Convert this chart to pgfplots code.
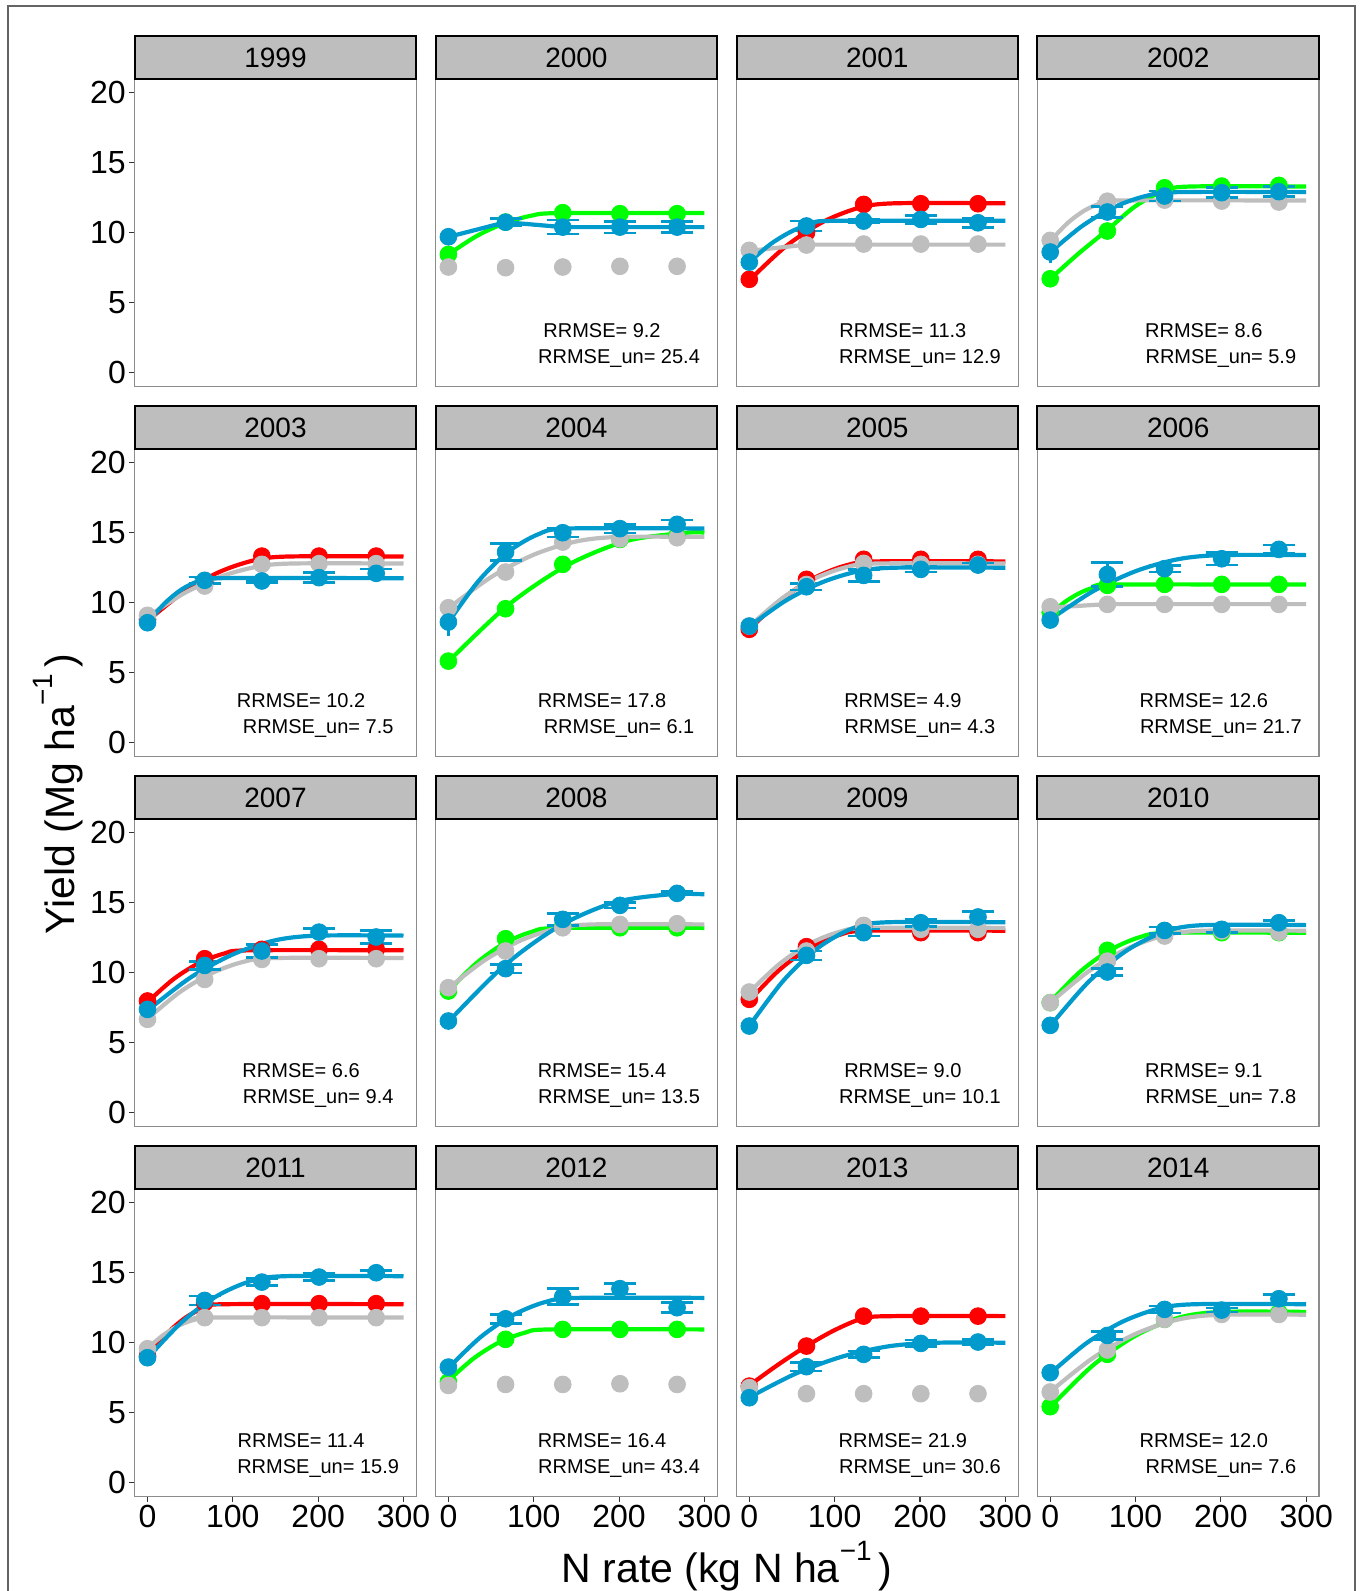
\documentclass[border=0pt]{standalone}
\usepackage{fontspec}
\setmainfont{Liberation Sans}
\usepackage{pgfplots}
\pgfplotsset{compat=1.18}
\definecolor{cred}{RGB}{255,0,0}
\definecolor{cgreen}{RGB}{0,255,0}
\definecolor{cgray}{RGB}{190,190,190}
\definecolor{cblue}{RGB}{0,154,205}
\definecolor{stripg}{RGB}{190,190,190}
\definecolor{pborder}{RGB}{140,140,140}
\definecolor{tickc}{RGB}{51,51,51}
\definecolor{framec}{RGB}{100,100,100}
\pgfplotsset{
  panel/.style={scale only axis, width=140.8pt, height=154pt,
    xmin=-15, xmax=315, ymin=-1, ymax=21, xtick=\empty, ytick=\empty,
    axis line style={draw=pborder, line width=0.6pt}, anchor=south west,
    tick style={draw=tickc, line width=0.55pt}, tick align=outside,
    major tick length=2.75pt,
    ticklabel style={font=\fontsize{16}{16}\selectfont, text=black},
    yticklabel style={inner sep=1.5pt}, xticklabel style={inner sep=1.5pt},
    /pgf/number format/assume math mode=true},
  leftcol/.style={ytick={0,5,10,15,20}, ytick pos=left},
  bottomrow/.style={xtick={0,100,200,300}, xtick pos=bottom},
}
\tikzset{
  fitl/.style={line width=2.1pt, no marks},
  pt/.style={only marks, mark=*, mark size=4.2pt},
  rrm/.style={font=\fontsize{10}{12}\selectfont, inner sep=0pt},
}
\newcommand{\rr}[2]{\node[rrm] at (axis cs:180,3) {RRMSE= #1};\node[rrm] at (axis cs:200,1) {RRMSE\_un= #2};}
\newcommand{\bpts}[1]{\addplot[pt, color=cblue, error bars/.cd, y dir=both, y explicit,
  error bar style={line width=1.3pt, cblue}, error mark options={rotate=90, line width=1.3pt, mark size=8pt, cblue}] coordinates {#1};}
\newcommand{\bz}[2]{\addplot[pt, color=cblue, error bars/.cd, y dir=both, y explicit,
  error bar style={line width=1.3pt, cblue}, error mark=none] coordinates {(0,#1)+-(0,#2)};}
\newcommand{\sups}[1]{\raisebox{0.55em}{\fontsize{14}{14}\selectfont #1}}
\begin{document}
\begin{tikzpicture}
\useasboundingbox (0,0) rectangle (681pt,-795.5pt);
\fill[white] (0,0) rectangle (681pt,-795.5pt);
\draw[framec, line width=0.75pt] (4pt,-3pt) rectangle (677.5pt,-810pt);

% ---------- row 1 ----------
\begin{axis}[panel, leftcol, at={(67.35pt,-193.35pt)}]
\end{axis}

\begin{axis}[panel, at={(217.8pt,-193.35pt)}]
\addplot[fitl, smooth, cgreen] coordinates {(0,8.45)(32.5,9.74)(65,10.66)(97.5,11.22)(130,11.4)(300,11.4)};
\addplot[pt, cgreen] coordinates {(0,8.45)(67,10.76)(134,11.43)(201,11.36)(268,11.36)};
\addplot[pt, cgray] coordinates {(0,7.55)(67,7.5)(134,7.55)(201,7.6)(268,7.6)};
\addplot[fitl, cblue] coordinates {(0,9.7)(67,10.75)(134,10.4)(300,10.4)};
\bz{9.71}{0.0}
\bpts{(67,10.75)+-(0,0.25) (134,10.4)+-(0,0.5) (201,10.4)+-(0,0.42) (268,10.4)+-(0,0.4)}
\rr{9.2}{25.4}
\end{axis}

\begin{axis}[panel, at={(368.25pt,-193.35pt)}]
\addplot[fitl, smooth, cred] coordinates {(0,6.6)(42.5,9.01)(85,10.73)(127.5,11.76)(170,12.1)(300,12.1)};
\addplot[pt, cred] coordinates {(0,6.67)(67,10.0)(134,12.02)(201,12.07)(268,12.07)};
\addplot[fitl, cgray] coordinates {(0,8.7)(67,9.15)(300,9.15)};
\addplot[pt, cgray] coordinates {(0,8.74)(67,9.12)(134,9.19)(201,9.19)(268,9.19)};
\addplot[fitl, smooth, cblue] coordinates {(0,7.9)(25,9.19)(50,10.11)(75,10.67)(100,10.85)(300,10.85)};
\bz{7.9}{0.0}
\bpts{(67,10.48)+-(0,0.35) (134,10.83)+-(0,0.15) (201,10.95)+-(0,0.3) (268,10.71)+-(0,0.35)}
\rr{11.3}{12.9}
\end{axis}

\begin{axis}[panel, at={(518.7pt,-193.35pt)}]
\addplot[fitl, smooth, cgreen] coordinates {(0,6.7)(33,8.5)(67,10.2)(100,11.9)(134,13.0)(165,13.3)(300,13.3)};
\addplot[pt, cgreen] coordinates {(0,6.71)(67,10.12)(134,13.21)(201,13.33)(268,13.38)};
\addplot[fitl, smooth, cgray] coordinates {(0,9.4)(20,10.67)(40,11.58)(60,12.12)(80,12.3)(300,12.3)};
\addplot[pt, cgray] coordinates {(0,9.45)(67,12.25)(134,12.33)(201,12.26)(268,12.19)};
\addplot[fitl, smooth, cblue] coordinates {(0,8.6)(37.5,10.48)(75,11.83)(112.5,12.63)(150,12.9)(300,12.9)};
\bz{8.62}{0.8}
\bpts{(67,11.48)+-(0,0.4) (134,12.62)+-(0,0.35) (201,12.86)+-(0,0.35) (268,12.93)+-(0,0.35)}
\rr{8.6}{5.9}
\end{axis}

% ---------- row 2 ----------
\begin{axis}[panel, leftcol, at={(67.35pt,-378.35pt)}]
\addplot[fitl, smooth, cred] coordinates {(0,8.7)(41.25,10.71)(82.5,12.15)(123.75,13.01)(165,13.3)(300,13.3)};
\addplot[pt, cred] coordinates {(0,8.8)(67,11.48)(134,13.33)(201,13.33)(268,13.33)};
\addplot[fitl, smooth, cgray] coordinates {(0,9.0)(42.5,10.66)(85,11.85)(127.5,12.56)(170,12.8)(300,12.8)};
\addplot[pt, cgray] coordinates {(0,9.1)(67,11.19)(134,12.74)(201,12.79)(268,12.79)};
\addplot[fitl, smooth, cblue] coordinates {(0,8.55)(20,9.95)(40,10.95)(60,11.55)(80,11.75)(300,11.75)};
\bz{8.57}{0.0}
\bpts{(67,11.6)+-(0,0.24) (134,11.55)+-(0,0.1) (201,11.79)+-(0,0.35) (268,12.1)+-(0,0.32)}
\rr{10.2}{7.5}
\end{axis}

\begin{axis}[panel, at={(217.8pt,-378.35pt)}]
\addplot[fitl, smooth, cgreen] coordinates {(0,5.8)(70,9.83)(140,12.7)(210,14.43)(280,15.0)(300,15.0)};
\addplot[pt, cgreen] coordinates {(0,5.83)(67,9.57)(134,12.74)(201,14.52)(268,14.8)};
\addplot[fitl, smooth, cgray] coordinates {(0,9.6)(50,11.83)(100,13.43)(150,14.38)(200,14.7)(300,14.7)};
\addplot[pt, cgray] coordinates {(0,9.64)(67,12.19)(134,14.33)(201,14.57)(268,14.64)};
\addplot[fitl, smooth, cblue] coordinates {(0,8.6)(35,11.53)(70,13.63)(105,14.88)(140,15.3)(300,15.3)};
\bz{8.62}{1.0}
\bpts{(67,13.62)+-(0,0.6) (134,15.0)+-(0,0.3) (201,15.29)+-(0,0.3) (268,15.6)+-(0,0.3)}
\rr{17.8}{6.1}
\end{axis}

\begin{axis}[panel, at={(368.25pt,-378.35pt)}]
\addplot[fitl, smooth, cred] coordinates {(0,8.1)(37.5,10.22)(75,11.74)(112.5,12.65)(150,12.95)(300,12.95)};
\addplot[pt, cred] coordinates {(0,8.1)(67,11.67)(134,13.1)(201,13.1)(268,13.1)};
\addplot[fitl, smooth, cgray] coordinates {(0,8.3)(37.5,10.27)(75,11.68)(112.5,12.52)(150,12.8)(300,12.8)};
\addplot[pt, cgray] coordinates {(0,8.33)(67,11.3)(134,12.81)(201,12.74)(268,12.74)};
\addplot[fitl, smooth, cblue] coordinates {(0,8.3)(42.5,10.14)(85,11.45)(127.5,12.24)(170,12.5)(300,12.5)};
\bz{8.33}{0.0}
\bpts{(67,11.14)+-(0,0.24) (134,11.95)+-(0,0.42) (201,12.38)+-(0,0.2) (268,12.69)+-(0,0.15)}
\rr{4.9}{4.3}
\end{axis}

\begin{axis}[panel, at={(518.7pt,-378.35pt)}]
\addplot[fitl, smooth, cgreen] coordinates {(0,9.2)(18.75,10.12)(37.5,10.78)(56.25,11.17)(75,11.3)(300,11.3)};
\addplot[pt, cgreen] coordinates {(0,9.3)(67,11.24)(134,11.31)(201,11.31)(268,11.31)};
\addplot[fitl, cgray] coordinates {(0,9.65)(67,9.9)(300,9.9)};
\addplot[pt, cgray] coordinates {(0,9.71)(67,9.88)(134,9.88)(201,9.88)(268,9.88)};
\addplot[fitl, smooth, cblue] coordinates {(0,8.8)(50,10.81)(100,12.25)(150,13.11)(200,13.4)(300,13.4)};
\bz{8.76}{0.0}
\bpts{(67,12.02)+-(0,0.87) (134,12.43)+-(0,0.24) (201,13.14)+-(0,0.45) (268,13.81)+-(0,0.3)}
\rr{12.6}{21.7}
\end{axis}

% ---------- row 3 ----------
\begin{axis}[panel, leftcol, at={(67.35pt,-563.35pt)}]
\addplot[fitl, smooth, cred] coordinates {(0,7.9)(30,9.52)(60,10.68)(90,11.37)(120,11.6)(300,11.6)};
\addplot[pt, cred] coordinates {(0,7.98)(67,11.0)(134,11.67)(201,11.67)(268,11.67)};
\addplot[fitl, smooth, cgray] coordinates {(0,6.7)(37.5,8.6)(75,9.96)(112.5,10.78)(150,11.05)(300,11.05)};
\addplot[pt, cgray] coordinates {(0,6.67)(67,9.52)(134,10.95)(201,11.0)(268,11.0)};
\addplot[fitl, smooth, cblue] coordinates {(0,7.3)(50,9.64)(100,11.31)(150,12.32)(200,12.65)(300,12.65)};
\bz{7.38}{0.0}
\bpts{(67,10.52)+-(0,0.3) (134,11.55)+-(0,0.45) (201,12.9)+-(0,0.26) (268,12.55)+-(0,0.45)}
\rr{6.6}{9.4}
\end{axis}

\begin{axis}[panel, at={(217.8pt,-563.35pt)}]
\addplot[fitl, smooth, cgreen] coordinates {(0,8.7)(32.5,10.67)(65,12.08)(97.5,12.92)(130,13.2)(300,13.2)};
\addplot[pt, cgreen] coordinates {(0,8.69)(67,12.43)(134,13.33)(201,13.21)(268,13.21)};
\addplot[fitl, smooth, cgray] coordinates {(0,8.9)(42.5,10.89)(85,12.31)(127.5,13.17)(170,13.45)(300,13.45)};
\addplot[pt, cgray] coordinates {(0,8.93)(67,11.55)(134,13.21)(201,13.45)(268,13.5)};
\addplot[fitl, smooth, cblue] coordinates {(0,6.5)(65,10.48)(130,13.33)(195,15.03)(260,15.6)(300,15.6)};
\bz{6.55}{0.0}
\bpts{(67,10.29)+-(0,0.3) (134,13.81)+-(0,0.44) (201,14.81)+-(0,0.2) (268,15.67)+-(0,0.12)}
\rr{15.4}{13.5}
\end{axis}

\begin{axis}[panel, at={(368.25pt,-563.35pt)}]
\addplot[fitl, smooth, cred] coordinates {(0,8.0)(35,10.19)(70,11.75)(105,12.69)(140,13.0)(300,13.0)};
\addplot[pt, cred] coordinates {(0,8.1)(67,11.86)(134,13.33)(201,12.86)(268,12.86)};
\addplot[fitl, smooth, cgray] coordinates {(0,8.6)(35,10.61)(70,12.05)(105,12.91)(140,13.2)(300,13.2)};
\addplot[pt, cgray] coordinates {(0,8.62)(67,11.55)(134,13.38)(201,13.1)(268,13.1)};
\addplot[fitl, smooth, cblue] coordinates {(0,6.2)(40,9.44)(80,11.75)(120,13.14)(160,13.6)(300,13.6)};
\bz{6.19}{0.0}
\bpts{(67,11.24)+-(0,0.32) (134,12.86)+-(0,0.25) (201,13.57)+-(0,0.26) (268,13.98)+-(0,0.38)}
\rr{9.0}{10.1}
\end{axis}

\begin{axis}[panel, at={(518.7pt,-563.35pt)}]
\addplot[fitl, smooth, cgreen] coordinates {(0,7.9)(35,10.07)(70,11.61)(105,12.54)(140,12.85)(300,12.85)};
\addplot[pt, cgreen] coordinates {(0,7.86)(67,11.6)(134,12.98)(201,12.86)(268,12.86)};
\addplot[fitl, smooth, cgray] coordinates {(0,7.85)(45,10.1)(90,11.71)(135,12.68)(180,13.0)(300,13.0)};
\addplot[pt, cgray] coordinates {(0,7.86)(67,10.83)(134,12.62)(201,12.98)(268,12.9)};
\addplot[fitl, smooth, cblue] coordinates {(0,6.2)(45,9.35)(90,11.6)(135,12.95)(180,13.4)(300,13.4)};
\bz{6.24}{0.0}
\bpts{(67,10.05)+-(0,0.27) (134,13.02)+-(0,0.24) (201,13.1)+-(0,0.24) (268,13.57)+-(0,0.15)}
\rr{9.1}{7.8}
\end{axis}

% ---------- row 4 ----------
\begin{axis}[panel, leftcol, bottomrow, at={(67.35pt,-748.35pt)}]
\addplot[fitl, smooth, cred] coordinates {(0,9.0)(22.5,10.64)(45,11.81)(67.5,12.52)(90,12.75)(300,12.75)};
\addplot[pt, cred] coordinates {(0,9.05)(67,12.86)(134,12.79)(201,12.79)(268,12.79)};
\addplot[fitl, smooth, cgray] coordinates {(0,9.6)(18.75,10.56)(37.5,11.25)(56.25,11.66)(75,11.8)(300,11.8)};
\addplot[pt, cgray] coordinates {(0,9.57)(67,11.79)(134,11.79)(201,11.79)(268,11.79)};
\addplot[fitl, smooth, cblue] coordinates {(0,8.9)(40,11.46)(80,13.29)(120,14.38)(160,14.75)(300,14.75)};
\bz{8.93}{0.0}
\bpts{(67,13.02)+-(0,0.32) (134,14.33)+-(0,0.26) (201,14.69)+-(0,0.24) (268,15.0)+-(0,0.15)}
\rr{11.4}{15.9}
\end{axis}

\begin{axis}[panel, bottomrow, at={(217.8pt,-748.35pt)}]
\addplot[fitl, smooth, cgreen] coordinates {(0,7.3)(30,8.9)(60,10.04)(90,10.72)(120,10.95)(300,10.95)};
\addplot[pt, cgreen] coordinates {(0,7.2)(67,10.24)(134,10.95)(201,10.95)(268,10.95)};
\addplot[pt, cgray] coordinates {(0,6.95)(67,7.02)(134,7.02)(201,7.07)(268,7.02)};
\addplot[fitl, smooth, cblue] coordinates {(0,8.2)(37.5,10.39)(75,11.95)(112.5,12.89)(150,13.2)(300,13.2)};
\bz{8.26}{0.0}
\bpts{(67,11.71)+-(0,0.32) (134,13.29)+-(0,0.58) (201,13.86)+-(0,0.39) (268,12.5)+-(0,0.36)}
\rr{16.4}{43.4}
\end{axis}

\begin{axis}[panel, bottomrow, at={(368.25pt,-748.35pt)}]
\addplot[fitl, smooth, cred] coordinates {(0,6.95)(33,8.4)(67,9.76)(100,10.9)(134,11.75)(170,11.9)(300,11.9)};
\addplot[pt, cred] coordinates {(0,6.9)(67,9.76)(134,11.9)(201,11.9)(268,11.9)};
\addplot[pt, cgray] coordinates {(0,6.79)(67,6.36)(134,6.36)(201,6.36)(268,6.36)};
\addplot[fitl, smooth, cblue] coordinates {(0,6.1)(55,7.81)(110,9.03)(165,9.76)(220,10.0)(300,10.0)};
\bz{6.07}{0.0}
\bpts{(67,8.29)+-(0,0.3) (134,9.17)+-(0,0.24) (201,9.95)+-(0,0.24) (268,10.05)+-(0,0.2)}
\rr{21.9}{30.6}
\end{axis}

\begin{axis}[panel, bottomrow, at={(518.7pt,-748.35pt)}]
\addplot[fitl, smooth, cgreen] coordinates {(0,5.4)(50,8.38)(100,10.5)(150,11.78)(200,12.2)(300,12.2)};
\addplot[pt, cgreen] coordinates {(0,5.43)(67,9.17)(134,11.67)(201,12.26)(268,12.14)};
\addplot[fitl, smooth, cgray] coordinates {(0,6.5)(50,8.91)(100,10.63)(150,11.66)(200,12.0)(300,12.0)};
\addplot[pt, cgray] coordinates {(0,6.48)(67,9.48)(134,11.67)(201,12.02)(268,12.02)};
\addplot[fitl, smooth, cblue] coordinates {(0,7.8)(42.5,9.97)(85,11.51)(127.5,12.44)(170,12.75)(300,12.75)};
\bz{7.86}{0.0}
\bpts{(67,10.52)+-(0,0.3) (134,12.38)+-(0,0.25) (201,12.33)+-(0,0.15) (268,13.14)+-(0,0.3)}
\rr{12.0}{7.6}
\end{axis}

% ---------- strips ----------
\foreach \c in {0,1,2,3}{
  \foreach \r in {0,1,2,3}{
    \pgfmathsetmacro\xl{67.35+150.45*\c}
    \pgfmathsetmacro\yt{-18.15-185*\r}
    \pgfmathtruncatemacro\yr{1999+4*\r+\c}
    \draw[fill=stripg, line width=1pt] (\xl pt,\yt pt) rectangle ++(140.8pt,-21.2pt);
    \node[font=\fontsize{14}{14}\selectfont, inner sep=0pt] at (\xl pt+70.4pt,\yt pt-10.6pt) {\yr};
  }
}

% ---------- axis titles ----------
\node[font=\fontsize{20.5}{24}\selectfont] at (363.5pt,-783pt) {N rate (kg N ha\sups{−1}\,)};
\node[rotate=90, font=\fontsize{20.5}{24}\selectfont] at (29pt,-397pt) {Yield (Mg ha\sups{−1}\,)};
\end{tikzpicture}
\end{document}
